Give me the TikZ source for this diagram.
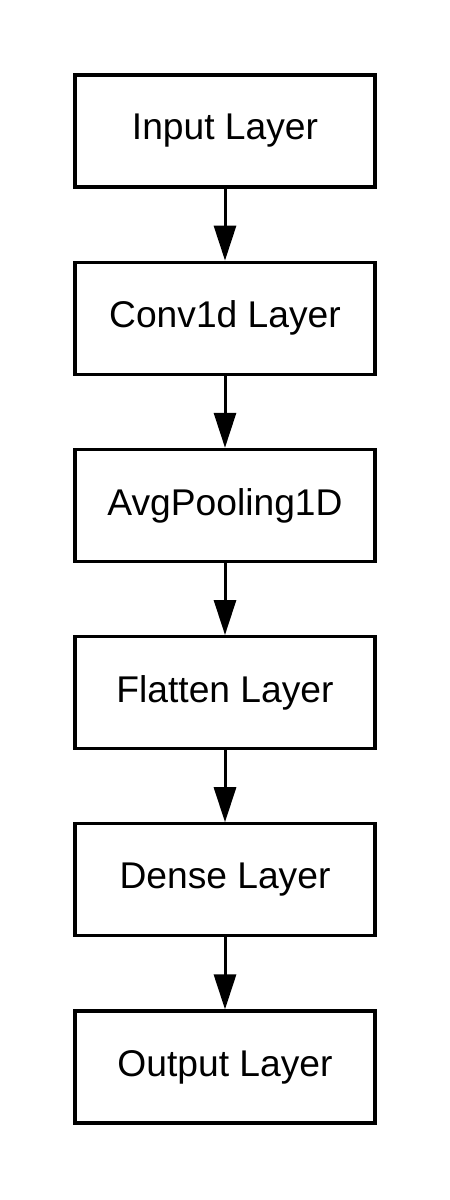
\documentclass[tikz,border=0pt]{standalone}
\usepackage{fontspec}
\setmainfont{Liberation Sans}
\usetikzlibrary{positioning,arrows.meta}
\begin{document}
\begin{tikzpicture}[
                node distance=36pt,
                layer/.style={rectangle, draw, line width=1.6pt, minimum width=150pt, minimum height=56pt, font=\fontsize{18.6}{22}\selectfont},
                flow/.style={line width=1.5pt, -{Triangle[length=17.5pt, width=11pt]}}
            ]
                \useasboundingbox (0,0) rectangle (225pt,-600pt);
                \node[layer] (input) at (112.5pt,-65.5pt) {Input Layer};
                \node[layer, below=of input] (conv) {Conv1d Layer};
                \node[layer, below=of conv] (pool) {AvgPooling1D};
                \node[layer, below=of pool] (flat) {Flatten Layer};
                \node[layer, below=of flat] (dense) {Dense Layer};
                \node[layer, below=of dense] (output) {Output Layer};
                \draw[flow] (input) -- (conv);
                \draw[flow] (conv) -- (pool);
                \draw[flow] (pool) -- (flat);
                \draw[flow] (flat) -- (dense);
                \draw[flow] (dense) -- (output);
            \end{tikzpicture}
\end{document}
